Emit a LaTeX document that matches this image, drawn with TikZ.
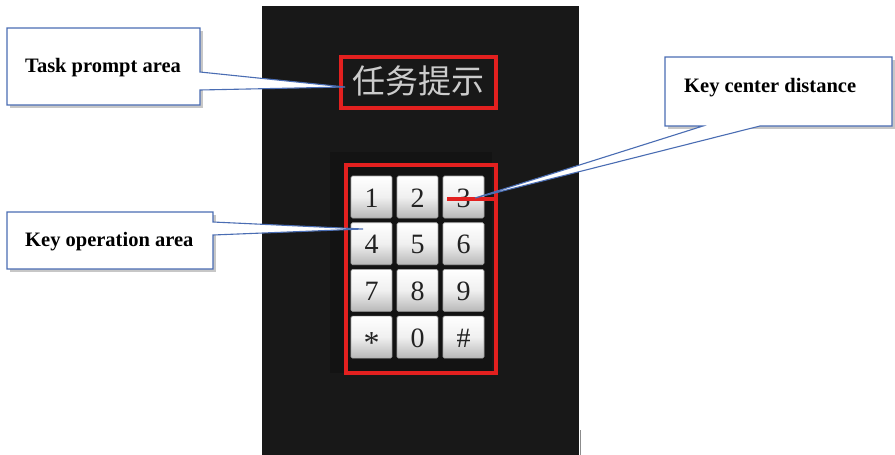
\documentclass[tikz,border=0pt]{standalone}
\usepackage{fontspec}
\setmainfont{Liberation Serif}
\newfontfamily\cjk{Noto Sans CJK SC}
\definecolor{panelblack}{HTML}{181818}
\definecolor{panelinner}{HTML}{131313}
\definecolor{calloutblue}{HTML}{4A6DB3}
\definecolor{markred}{HTML}{E3201F}
\definecolor{keytext}{HTML}{222222}
\begin{document}
\begin{tikzpicture}[x=1pt,y=-1pt,
  callout/.style={fill=white, draw=calloutblue, line width=1.1pt, line join=miter},
  calloutshadow/.style={fill=black!22, draw=none},
  labeltext/.style={font=\fontsize{20.5}{22}\selectfont\bfseries, text=black, inner sep=0pt, anchor=base west},
  redbox/.style={draw=markred, line width=3.2pt},
  keybox/.style={rounded corners=1.5pt, draw=black!35, line width=0.6pt,
    top color=white, bottom color=black!28, middle color=black!6},
  keylabel/.style={font=\fontsize{28}{28}\selectfont, text=keytext, inner sep=0pt}
]
\useasboundingbox (0,0) rectangle (895,455);

% phone panel
\fill[panelblack] (262,6) rectangle (579,455);
\fill[panelinner] (330,152) rectangle (492,373);
\draw[black!45, line width=1pt] (580,430) -- (580,455);

% task prompt area
\node[font=\cjk\fontsize{33}{33}\selectfont, text=black!20, inner sep=0pt] (task) at (418,81) {任务提示};
\draw[redbox] (341,57) rectangle (496,108);

% keypad
\draw[redbox] (346,165) rectangle (496,373);
\foreach \i in {0,...,11} {
  \pgfmathtruncatemacro{\col}{mod(\i,3)}
  \pgfmathtruncatemacro{\row}{div(\i,3)}
  \pgfmathsetmacro{\cx}{351+46*\col}
  \pgfmathsetmacro{\cy}{176+46.7*\row}
  \fill[keybox] (\cx,\cy) rectangle ++(41,42);
  \coordinate (kc\i) at ({\cx+20.5},{\cy+22});
}
\node[keylabel] (key1) at (kc0) {1};
\node[keylabel] (key2) at (kc1) {2};
\node[keylabel] (key3) at (kc2) {3};
\node[keylabel] (key4) at (kc3) {4};
\node[keylabel] (key5) at (kc4) {5};
\node[keylabel] (key6) at (kc5) {6};
\node[keylabel] (key7) at (kc6) {7};
\node[keylabel] (key8) at (kc7) {8};
\node[keylabel] (key9) at (kc8) {9};
\node[keylabel, font=\fontsize{32}{32}\selectfont] (keystar) at ([yshift=-5pt]kc9) {*};
\node[keylabel] (key0) at (kc10) {0};
\node[keylabel] (keyhash) at (kc11) {\#};

% key centre distance marker
\coordinate (d1) at (447,199);
\coordinate (d2) at (498,199);
\draw[markred, line width=4pt] (d1) -- (d2);

% callout: task prompt area
\coordinate (tipA) at (345,87);
\fill[calloutshadow] (9.5,30.5) rectangle (202.5,107.5);
\draw[callout] (7,28) -- (200,28) -- (200,72) -- (tipA) -- (200,90) -- (200,105) -- (7,105) -- cycle;
\node[labeltext] (lblTask) at (25,72) {Task prompt area};

% callout: key operation area
\coordinate (tipB) at (363,229);
\fill[calloutshadow] (9.5,214.5) rectangle (215.5,271.5);
\draw[callout] (7,212) -- (213,212) -- (213,222) -- (tipB) -- (213,235) -- (213,269) -- (7,269) -- cycle;
\node[labeltext] (lblKey) at (25,246.5) {Key operation area};

% callout: key center distance
\coordinate (tipC) at (475,198);
\fill[calloutshadow] (667.5,59.5) rectangle (895,128.5);
\draw[callout] (665,57) -- (892,57) -- (892,126) -- (760,126) -- (tipC) -- (703,126) -- (665,126) -- cycle;
\node[labeltext] (lblDist) at (684,92) {Key center distance};
\end{tikzpicture}
\end{document}
